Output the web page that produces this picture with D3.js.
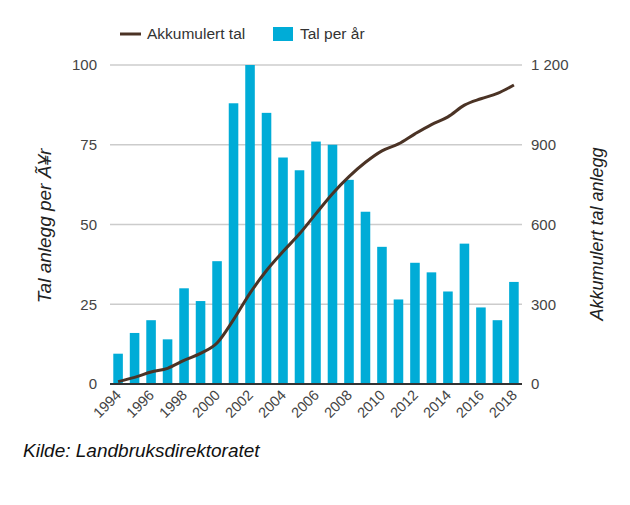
<!DOCTYPE html>
<html><head><meta charset="utf-8">
<script src="https://cdn.jsdelivr.net/npm/d3@7"></script>
<style>body{margin:0;background:#fff;font-family:"Liberation Sans",Arial,sans-serif;}</style>
</head><body><svg id="c" width="630" height="505"></svg>
<script>
const years = [1994,1995,1996,1997,1998,1999,2000,2001,2002,2003,2004,2005,2006,2007,2008,2009,2010,2011,2012,2013,2014,2015,2016,2017,2018];
const perYear = [9.5,16,20,14,30,26,38.5,88,100,85,71,67,76,75,64,54,43,26.5,38,35,29,44,24,20,32];
const cumulative = [9,25,45,59,89,115,154,242,342,427,498,565,641,716,780,834,877,903,941,976,1005,1049,1073,1093,1125];
const leftTicks = [0,25,50,75,100];
const rightTicks = [0,300,600,900,1200];
const rightTickLabels = ["0","300","600","900","1 200"];
const xLabelYears = [1994,1996,1998,2000,2002,2004,2006,2008,2010,2012,2014,2016,2018];

const svg = d3.select("#c");
const L=110, R=522, T=65, B=384;
const x = d3.scaleBand().domain(years).range([L,R]).paddingInner(0.42).paddingOuter(0.2);
const yL = d3.scaleLinear().domain([0,100]).range([B,T]);
const yR = d3.scaleLinear().domain([0,1200]).range([B,T]);
const barColor="#00acd7", lineColor="#4b3325", txt="#444";

// grid
svg.append("g").selectAll("line").data(leftTicks.filter(d=>d>0)).join("line")
  .attr("x1",L).attr("x2",R).attr("y1",d=>yL(d)).attr("y2",d=>yL(d))
  .attr("stroke","#cccccc").attr("stroke-width",1.5);

// bars
svg.append("g").selectAll("rect").data(years).join("rect")
  .attr("x",d=>x(d)).attr("width",x.bandwidth())
  .attr("y",(d,i)=>yL(perYear[i])).attr("height",(d,i)=>B-yL(perYear[i]))
  .attr("fill",barColor);

// baseline
svg.append("line").attr("x1",L).attr("x2",R).attr("y1",B).attr("y2",B).attr("stroke","#333").attr("stroke-width",2);

// line
const line = d3.line().x((d,i)=>x(years[i])+x.bandwidth()/2).y(d=>yR(d)).curve(d3.curveMonotoneX);
svg.append("path").datum(cumulative).attr("d",line).attr("fill","none").attr("stroke",lineColor).attr("stroke-width",3);

// left tick labels
svg.append("g").selectAll("text").data(leftTicks).join("text")
  .attr("x",97).attr("y",d=>yL(d)).attr("dy","0.35em").attr("text-anchor","end")
  .attr("font-size",15).attr("fill",txt).text(d=>d);
// right tick labels
svg.append("g").selectAll("text").data(rightTicks).join("text")
  .attr("x",531).attr("y",d=>yR(d)).attr("dy","0.35em").attr("text-anchor","start")
  .attr("font-size",15).attr("fill",txt).text((d,i)=>rightTickLabels[i]);

// x labels
svg.append("g").selectAll("text").data(xLabelYears).join("text")
  .attr("transform",d=>`translate(${x(d)+x.bandwidth()/2+4},${B+12}) rotate(-45)`)
  .attr("text-anchor","end").attr("font-size",14.5).attr("fill",txt).text(d=>d);

// axis titles
svg.append("text").attr("transform","translate(51,226) rotate(-90)").attr("text-anchor","middle")
  .attr("font-size",19).attr("font-style","italic").attr("fill","#222").text("Tal anlegg per Ã¥r");
svg.append("text").attr("transform","translate(603,234) rotate(-90)").attr("text-anchor","middle")
  .attr("font-size",18).attr("font-style","italic").attr("fill","#222").text("Akkumulert tal anlegg");

// legend
svg.append("line").attr("x1",120).attr("x2",141).attr("y1",34).attr("y2",34).attr("stroke",lineColor).attr("stroke-width",3);
svg.append("text").attr("x",147).attr("y",34).attr("dy","0.35em").attr("font-size",15.5).attr("fill","#333").text("Akkumulert tal");
svg.append("rect").attr("x",273).attr("y",27).attr("width",20).attr("height",14).attr("fill",barColor);
svg.append("text").attr("x",300).attr("y",34).attr("dy","0.35em").attr("font-size",15.5).attr("fill","#333").text("Tal per år");

// source
svg.append("text").attr("x",23).attr("y",457).attr("font-size",19).attr("font-style","italic").attr("fill","#111").text("Kilde: Landbruksdirektoratet");
</script></body></html>
